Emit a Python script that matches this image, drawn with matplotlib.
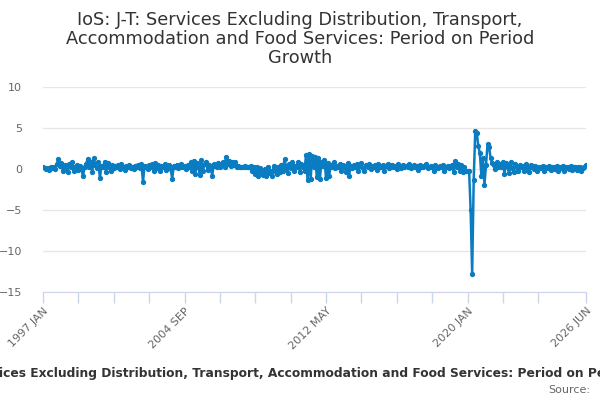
import numpy as np
import matplotlib
matplotlib.use('Agg')
import matplotlib.pyplot as plt

# monthly period-on-period growth, 1997 JAN .. 2026 JUN
growth = [
    0.2, 0.1, 0.0, 0.1, -0.1, 0.2, 0.1, 0.3, 0.0, 0.6, 1.2, 0.4,          # 1997
    0.7, -0.3, 0.5, 0.1, -0.4, 0.6, 0.2, 0.8, -0.2, 0.3, 0.5, -0.1,       # 1998
    0.4, 0.0, -0.9, 0.3, 0.6, 1.2, 0.2, 0.9, -0.4, 1.3, 0.5, 0.1,         # 1999
    0.8, -1.1, 0.4, 0.2, 0.9, -0.4, 0.7, 0.3, -0.3, 0.5, 0.1, 0.4,        # 2000
    0.2, 0.5, 0.0, 0.6, 0.3, -0.1, 0.4, 0.2, 0.5, 0.1, 0.3, 0.0,          # 2001
    0.4, 0.2, 0.5, 0.1, 0.6, -1.6, 0.4, 0.3, 0.0, 0.5, 0.2, 0.6,          # 2002
    -0.2, 0.7, 0.1, 0.5, -0.3, 0.4, 0.2, 0.6, -0.1, 0.3, 0.5, 0.0,        # 2003
    -1.2, 0.4, 0.2, 0.5, 0.1, 0.3, 0.6, 0.2, 0.4, 0.0, 0.5, 0.3,          # 2004
    0.8, -0.3, 1.0, -0.6, 0.7, 0.2, -0.7, 1.1, -0.2, 0.6, 0.9, -0.1,      # 2005
    0.5, 0.3, -0.8, 0.6, 0.4, 0.2, 0.7, 0.3, 0.5, 0.8, 0.2, 1.5,          # 2006
    0.6, 1.0, 0.4, 0.8, 0.5, 0.9, 0.3, 0.4, 0.3, 0.2, 0.3, 0.4,           # 2007
    0.3, 0.2, 0.3, 0.4, -0.2, 0.3, -0.6, 0.2, -0.9, 0.1, -0.4, -0.7,      # 2008
    0.0, -0.9, 0.3, -0.5, -0.2, -0.8, 0.4, -0.3, -0.6, 0.2, -0.4, 0.5,    # 2009
    -0.2, 1.2, 0.3, -0.5, 0.6, 0.1, 0.8, -0.3, 0.4, 0.2, 0.9, -0.4,       # 2010
    0.6, 0.3, -0.2, 1.7, -1.4, 1.8, -1.2, 1.6, 0.2, 1.5, -1.0, 1.3,       # 2011
    -1.2, 0.9, 0.4, 1.1, -1.1, 0.7, -0.9, 0.5, 0.3, 0.8, 0.1, 0.4,        # 2012
    0.2, 0.6, -0.2, 0.5, 0.3, -0.4, 0.7, -0.8, 0.4, 0.1, 0.5, 0.2,        # 2013
    0.6, -0.3, 0.4, 0.7, 0.1, -0.2, 0.5, 0.3, 0.6, 0.0, 0.4, 0.2,         # 2014
    0.5, -0.1, 0.6, 0.3, 0.2, 0.5, -0.2, 0.4, 0.6, 0.1, 0.3, 0.5,         # 2015
    0.2, 0.4, 0.0, 0.6, 0.3, 0.1, 0.5, 0.2, 0.4, 0.3, 0.6, 0.1,           # 2016
    0.3, 0.5, 0.2, 0.4, -0.1, 0.5, 0.3, 0.2, 0.4, 0.6, 0.1, 0.3,          # 2017
    0.4, 0.2, -0.3, 0.5, 0.3, 0.1, 0.4, 0.2, 0.5, -0.2, 0.3, 0.4,         # 2018
    0.1, 0.3, 0.5, -0.4, 1.0, 0.2, 0.6, -0.3, 0.5, -0.4, 0.2, -0.3,       # 2019
    -0.3, -0.2, -5.0, -12.8, -1.3, 4.6, 4.4, 2.8, 1.9, -0.9, 1.3, -1.9,   # 2020
    0.5, 3.0, 2.7, 1.3, 0.7, 0.5, 0.0, 0.8, 0.3, 0.6, 0.2, 0.9,           # 2021
    -0.6, 0.7, 0.2, -0.5, 0.8, 0.1, -0.4, 0.6, 0.3, -0.3, 0.5, 0.2,       # 2022
    0.4, -0.2, 0.6, 0.1, -0.4, 0.5, 0.2, 0.0, 0.4, -0.3, 0.3, 0.1,        # 2023
    0.2, 0.4, -0.2, 0.3, 0.1, 0.4, -0.1, 0.3, 0.2, 0.0, 0.4, -0.2,        # 2024
    0.3, 0.1, 0.4, -0.2, 0.2, 0.3, 0.0, 0.4, -0.1, 0.3, 0.2, -0.1,        # 2025
    0.2, 0.3, -0.3, 0.1, 0.2, 0.5,                                        # 2026
]

months = ['JAN', 'FEB', 'MAR', 'APR', 'MAY', 'JUN',
          'JUL', 'AUG', 'SEP', 'OCT', 'NOV', 'DEC']
labels = ['%d %s' % (1997 + i // 12, months[i % 12]) for i in range(len(growth))]

y_ticks = [10, 5, 0, -5, -10, -15]

title = 'IoS: J-T: Services Excluding Distribution, Transport,\nAccommodation and Food Services: Period on Period\nGrowth'
axis_title = 'IoS: J-T: Services Excluding Distribution, Transport, Accommodation and Food Services: Period on Period Growth'

line_col = '#0a7cc1'
text_col = '#333333'
tick_col = '#666666'

fig = plt.figure(figsize=(6, 4), dpi=100)
ax = fig.add_axes([43 / 600, 1 - 292 / 400, 543 / 600, 205 / 400])

x = np.arange(len(growth))
ax.plot(x, growth, color=line_col, lw=1.8, marker='o', ms=2.8, zorder=3)

ax.set_xlim(0, len(growth) - 1)
ax.set_ylim(-15, 10)
ax.set_yticks(y_ticks)
ax.tick_params(axis='y', length=0, pad=15, labelsize=8, labelcolor=tick_col)
ax.grid(axis='y', color='#e6e6e6', lw=0.9)
ax.set_axisbelow(True)

# ticks every 23 months, label every 4th one plus the last month
tick_pos = list(range(0, len(growth) - 30, 23)) + [len(growth) - 1]
ax.set_xticks(tick_pos)
ax.set_xticklabels([labels[p] if (p % 92 == 0 or p == len(growth) - 1) else '' for p in tick_pos],
                   rotation=45, ha='right', rotation_mode='anchor')
ax.tick_params(axis='x', length=8, color='#ccd6eb', width=1, labelsize=8,
               labelcolor=tick_col, pad=2)

for side in ['top', 'right', 'left']:
    ax.spines[side].set_visible(False)
ax.spines['bottom'].set_color('#ccd6eb')

fig.text(0.5, 1 - 39 / 400, title, ha='center', va='center', fontsize=12.8,
         color=text_col, linespacing=1.1)
# the long axis title is wider than the figure and is cut at both edges, as in the original
fig.text(0.5, 1 - 374 / 400, axis_title, ha='center', va='center', fontsize=8.8,
         fontweight='bold', color=text_col)
fig.text(590 / 600, 1 - 390 / 400, 'Source:', ha='right', va='center', fontsize=8,
         color=tick_col)

fig.savefig('out.png', dpi=100)
